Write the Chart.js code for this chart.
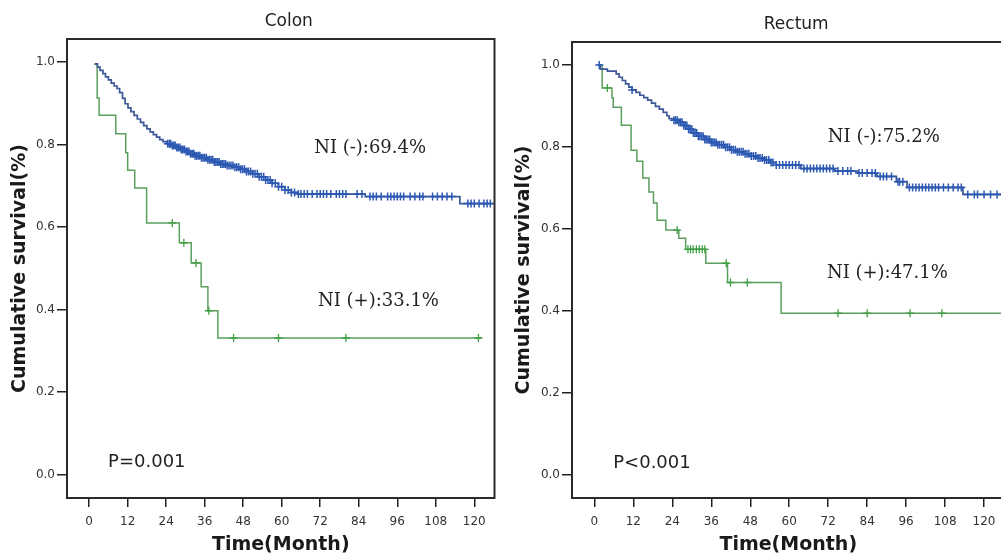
<!DOCTYPE html>
<html>
<head>
<meta charset="utf-8">
<script src="https://cdn.jsdelivr.net/npm/chart.js"></script>
<style>
  html, body { margin: 0; padding: 0; background: #fff; overflow: hidden; }
  body { width: 1001px; height: 559px; position: relative; }
  #colon { position: absolute; left: 0; top: 0; }
  #rectum { position: absolute; left: 500px; top: 0; }
</style>
</head>
<body>
<canvas id="colon" width="500" height="559"></canvas>
<canvas id="rectum" width="510" height="559"></canvas>
<script>
const monthTicks = [0, 12, 24, 36, 48, 60, 72, 84, 96, 108, 120];
const survivalTicks = [0, 0.2, 0.4, 0.6, 0.8, 1.0];

// Colon, NI(-) : event times (months) and survival after each event
const colonNegTimes = [1.8,2.6,3.4,4.3,5.1,6.0,6.9,7.8,8.7,9.5,10.4,11.2,12.1,13.0,14.0,15.0,16.0,17.0,18.0,19.0,20.0,21.0,22.0,23.0,24.2,25.5,27,28.5,30,31.5,33,35,37,39,41,43,45,47,49,51,53,55,57,59,61,63,65,86,115.5,126];
const colonNegSurv = [0.996,0.988,0.980,0.972,0.964,0.957,0.949,0.942,0.936,0.926,0.912,0.899,0.889,0.880,0.871,0.862,0.854,0.846,0.838,0.831,0.824,0.818,0.812,0.807,0.802,0.798,0.793,0.788,0.783,0.778,0.773,0.768,0.763,0.758,0.753,0.749,0.745,0.740,0.735,0.729,0.722,0.714,0.706,0.698,0.690,0.684,0.680,0.674,0.657,0.657];
const colonNegCensor = [24.5,25,25.4,25.9,26.4,26.8,27.3,27.8,28.3,28.7,29.2,29.7,30.2,30.6,31.1,31.6,32.1,32.6,33,33.5,34,34.5,35,35.5,36,36.5,37,37.5,38,38.5,39,39.5,40,40.5,41,41.5,42,42.5,43,43.6,44.2,44.8,45.4,46,46.6,47.2,47.8,48.4,49,49.6,50.3,51,51.7,52.4,53,53.7,54.4,55,55.7,56.4,57,58,59,60,61,62,63,64,65.2,66,67,68,69.5,71,72,73,74,75.3,77,78,79,80,83.5,85,87.5,88.5,89.5,91,93,94,95,96,97,98,100,101.5,103,104,107,108.5,110,111.5,113,118,119,120,121.5,123,124,125];

// Colon, NI(+)
const colonPosTimes = [1.5,2.5,3.1,8.3,11.4,12.0,14.2,17.9,28.1,31.8,34.9,37.0,40.1,122.2];
const colonPosSurv = [0.995,0.913,0.871,0.826,0.780,0.738,0.695,0.610,0.562,0.513,0.455,0.397,0.331,0.331];
const colonPosCensor = [25.9,29.5,33.3,37.3,45,59,80,121.3];

// Rectum, NI(-)
const rectumNegTimes = [1.2,1.8,4,6.7,7.6,8.6,9.6,10.6,11.6,12.8,14,15.2,16.4,17.6,18.8,20,21.2,22.3,23,24.5,26,27.5,29,30.5,32,34,36,38,40,42,44,46,48,50,52,54,56,63.6,74,81,87,93,96.3,113.5,128];
const rectumNegSurv = [1.0,0.99,0.985,0.978,0.970,0.962,0.954,0.946,0.939,0.933,0.926,0.920,0.914,0.907,0.899,0.892,0.884,0.876,0.869,0.865,0.860,0.852,0.843,0.834,0.826,0.818,0.811,0.805,0.799,0.793,0.788,0.783,0.778,0.773,0.768,0.762,0.756,0.747,0.741,0.736,0.728,0.715,0.701,0.684,0.684];
const rectumNegCensor = [1.5,11.6,24.5,25,25.5,26,26.5,27,27.5,28,28.5,29,29.5,30,30.5,31,31.5,32,32.5,33,33.5,34,34.5,35,35.5,36,36.5,37,37.5,38,38.6,39.2,39.8,40.4,41,41.6,42.2,42.8,43.4,44,44.6,45.2,45.8,46.4,47,47.6,48.3,49,49.7,50.4,51,51.7,52.4,53,53.7,54.4,55,56,57,58,59,60,61,62,63,64.5,65.5,66.5,67.5,68.5,69.5,70.5,71.5,72.5,73.5,75,76.5,78,79,81.5,82.5,84,85.5,86.5,88,89,90,91.5,93.5,94,95,97,98,99,100,101,102,103,104,105,106,107.5,109,110.5,112,113,115,117,118,120,122,124,125.5];

// Rectum, NI(+)
const rectumPosTimes = [1.2,2.4,5.4,5.8,8.3,11.3,13.1,14.9,16.8,18.2,19.3,22.0,26.0,28.1,34.3,41.0,57.5,128];
const rectumPosSurv = [1.0,0.944,0.920,0.897,0.853,0.792,0.765,0.724,0.690,0.663,0.621,0.597,0.577,0.550,0.516,0.469,0.394,0.394];
const rectumPosCensor = [4.0,25.5,28.8,29.6,30.4,31.4,32.3,33.2,34.0,40.6,41.9,47.1,75.0,84.0,97.2,107.0];

const BLUE_LINE = '#3d5896';
const BLUE_MARK = '#2b58b2';
const GREEN_LINE = '#5a9f5d';
const GREEN_MARK = '#3fa043';

function survAt(times, surv, t) {
  let v = surv[0];
  for (let i = 0; i < times.length; i++) {
    if (times[i] <= t) v = surv[i];
  }
  return v;
}
function curve(times, surv) {
  return times.map((t, i) => ({ x: t, y: surv[i] }));
}
function marks(times, surv, censor) {
  return censor.map(t => ({ x: t, y: survAt(times, surv, t) }));
}

// frame, panel title and text notes
const notesPlugin = {
  id: 'notes',
  afterDraw(chart, args, o) {
    const { ctx, chartArea: a, scales: { x, y } } = chart;
    ctx.save();
    ctx.strokeStyle = '#2a2a2a';
    ctx.lineWidth = 2;
    ctx.strokeRect(a.left, a.top, a.right - a.left, a.bottom - a.top);

    ctx.fillStyle = '#222';
    ctx.textBaseline = 'middle';
    ctx.textAlign = 'center';
    ctx.font = '17px "DejaVu Sans"';
    ctx.fillText(o.title, (a.left + a.right) / 2 + 8, a.top - 17);

    ctx.textAlign = 'left';
    o.texts.forEach(n => {
      ctx.font = n.serif ? '18px "DejaVu Serif"' : '18px "DejaVu Sans"';
      ctx.fillText(n.text, x.getPixelForValue(n.t), y.getPixelForValue(n.v));
    });
    ctx.restore();
  }
};

const tickFont = { family: 'DejaVu Sans', size: 12 };
const titleFont = { family: 'DejaVu Sans', size: 19, weight: 'bold' };

function drawPanel(id, p) {
  new Chart(document.getElementById(id), {
    type: 'line',
    data: {
      datasets: [
        { data: marks(p.negT, p.negS, p.negC), showLine: false, pointStyle: 'cross', pointRadius: 4,
          pointBorderWidth: 1.5, borderColor: BLUE_MARK, pointBorderColor: BLUE_MARK },
        { data: marks(p.posT, p.posS, p.posC), showLine: false, pointStyle: 'cross', pointRadius: 4,
          pointBorderWidth: 1.3, borderColor: GREEN_MARK, pointBorderColor: GREEN_MARK },
        { data: curve(p.negT, p.negS), stepped: true, borderColor: BLUE_LINE, borderWidth: 1.7, pointRadius: 0 },
        { data: curve(p.posT, p.posS), stepped: true, borderColor: GREEN_LINE, borderWidth: 1.5, pointRadius: 0 }
      ]
    },
    options: {
      responsive: false,
      animation: false,
      events: [],
      layout: { padding: { top: p.top, right: p.right, left: 0, bottom: 0 } },
      plugins: {
        legend: { display: false },
        tooltip: { enabled: false },
        notes: { title: p.title, texts: p.texts }
      },
      scales: {
        x: {
          type: 'linear',
          min: -6.9,
          max: 126.3,
          afterBuildTicks: s => { s.ticks = monthTicks.map(v => ({ value: v })); },
          afterFit: s => { s.height = 61; },
          border: { display: false },
          grid: { drawOnChartArea: false, drawTicks: true, tickLength: 9, color: '#222', lineWidth: 1.5 },
          ticks: { font: tickFont, color: '#333', padding: 8, maxRotation: 0 },
          title: { display: true, text: 'Time(Month)', font: titleFont, color: '#1a1a1a', padding: { top: 0, bottom: 2.6 } }
        },
        y: {
          min: -0.057,
          max: 1.056,
          afterBuildTicks: s => { s.ticks = survivalTicks.map(v => ({ value: v })); },
          afterFit: s => { s.width = p.yWidth; },
          border: { display: false },
          grid: { drawOnChartArea: false, drawTicks: true, tickLength: 10, color: '#222', lineWidth: 1.5 },
          ticks: { font: tickFont, color: '#333', padding: 2, callback: v => v.toFixed(1) },
          title: { display: true, text: 'Cumulative survival(%)', font: titleFont, color: '#1a1a1a', padding: { top: p.yTitlePad, bottom: 0 } }
        }
      }
    },
    plugins: [notesPlugin]
  });
}

drawPanel('colon', {
  title: 'Colon', top: 39, right: 1, yWidth: 67, yTitlePad: 8.6,
  negT: colonNegTimes, negS: colonNegSurv, negC: colonNegCensor,
  posT: colonPosTimes, posS: colonPosSurv, posC: colonPosCensor,
  texts: [
    { text: 'NI (-):69.4%', t: 70.1, v: 0.792, serif: true },
    { text: 'NI (+):33.1%', t: 71.3, v: 0.421, serif: true },
    { text: 'P=0.001', t: 5.9, v: 0.029 }
  ]
});

drawPanel('rectum', {
  title: 'Rectum', top: 42, right: 3, yWidth: 72, yTitlePad: 12.6,
  negT: rectumNegTimes, negS: rectumNegSurv, negC: rectumNegCensor,
  posT: rectumPosTimes, posS: rectumPosSurv, posC: rectumPosCensor,
  texts: [
    { text: 'NI (-):75.2%', t: 71.9, v: 0.824, serif: true },
    { text: 'NI (+):47.1%', t: 71.6, v: 0.491, serif: true },
    { text: 'P<0.001', t: 5.8, v: 0.027 }
  ]
});
</script>
</body>
</html>
